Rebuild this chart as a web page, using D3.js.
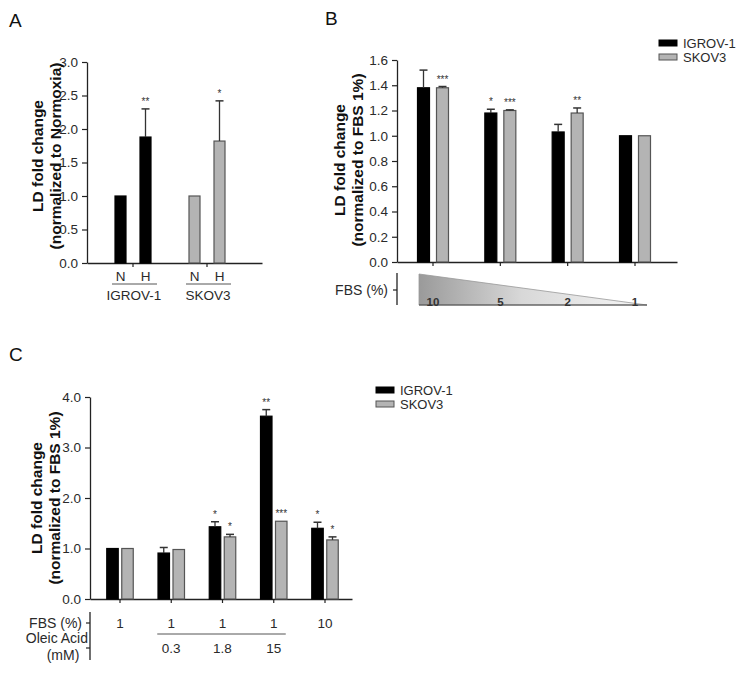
<!DOCTYPE html>
<html><head><meta charset="utf-8">
<script src="https://cdn.jsdelivr.net/npm/d3@7"></script>
<style>body{margin:0;background:#fff}svg{font-family:"Liberation Sans",Arial,sans-serif}</style>
</head><body>
<svg id="c" width="748" height="673"></svg>
<script>
// ---------- DATA ----------
const seriesNames = ["IGROV-1", "SKOV3"];
// Panel A
const aGroups = ["IGROV-1", "SKOV3"];
const aConds = ["N", "H"];
const aMeans = [[1.0, 1.88], [1.0, 1.82]];
const aErr = [[0, 0.42], [0, 0.60]];
const aStars = [["", "**"], ["", "*"]];
const aTicks = [0, 0.5, 1.0, 1.5, 2.0, 2.5, 3.0];
// Panel B
const bCategories = ["10", "5", "2", "1"];
const bIgrov = [1.38, 1.18, 1.03, 1.0];
const bIgrovErr = [0.14, 0.03, 0.06, 0];
const bSkov = [1.38, 1.20, 1.18, 1.0];
const bSkovErr = [0.01, 0.005, 0.04, 0];
const bIgrovStars = ["", "*", "", ""];
const bSkovStars = ["***", "***", "**", ""];
const bTicks = [0, 0.2, 0.4, 0.6, 0.8, 1.0, 1.2, 1.4, 1.6];
// Panel C
const cFbs = ["1", "1", "1", "1", "10"];
const cOleic = ["", "0.3", "1.8", "15", ""];
const cIgrov = [1.0, 0.91, 1.43, 3.62, 1.40];
const cIgrovErr = [0, 0.11, 0.10, 0.13, 0.12];
const cSkov = [1.0, 0.98, 1.23, 1.54, 1.17];
const cSkovErr = [0, 0, 0.05, 0, 0.06];
const cIgrovStars = ["", "", "*", "**", "*"];
const cSkovStars = ["", "", "*", "***", "*"];
const cTicks = [0, 1, 2, 3, 4];

// ---------- STYLE ----------
const BLACK = "#000", GREY = "#b4b4b4", GREYSTROKE = "#555", AX = "#222", TXT = "#2a2a2a";
const svg = d3.select("#c");

function yAxis(g, y, ticks, x0, fmt) {
  const ax = g.append("g").attr("transform", `translate(${x0},0)`)
    .call(d3.axisLeft(y).tickValues(ticks).tickFormat(fmt).tickSize(5).tickSizeOuter(0));
  ax.select(".domain").attr("stroke", AX).attr("stroke-width", 1.3);
  ax.selectAll(".tick line").attr("stroke", AX).attr("stroke-width", 1.2);
  ax.selectAll(".tick text").attr("font-size", 13.5).attr("fill", TXT).attr("font-family", "Liberation Sans, Arial, sans-serif").attr("dx", -1);
  return ax;
}
function xAxisLine(g, x, y0, x0, x1) {
  const sc = d3.scaleLinear().domain([0, 1]).range([x0, x1]);
  const ax = g.append("g").attr("transform", `translate(0,${y0})`)
    .call(d3.axisBottom(sc).tickValues([]).tickSizeOuter(0));
  ax.select(".domain").attr("stroke", AX).attr("stroke-width", 1.3);
  g.append("g").selectAll("line").data(x.domain()).join("line")
    .attr("x1", d => x(d)).attr("x2", d => x(d)).attr("y1", y0).attr("y2", y0 + 4)
    .attr("stroke", AX).attr("stroke-width", 1.2);
}
function yTitle(g, cx, cy, l1, l2) {
  const t = g.append("text").attr("transform", `translate(${cx},${cy}) rotate(-90)`)
    .attr("text-anchor", "middle").attr("font-size", 15.5).attr("font-weight", "bold").attr("fill", "#111");
  t.append("tspan").attr("x", 0).attr("y", 0).text(l1);
  t.append("tspan").attr("x", 0).attr("y", 18).text(l2);
}
function bar(g, cx, w, y, v, err, fill, stroke, star) {
  g.append("rect").attr("x", cx - w / 2).attr("width", w)
    .attr("y", y(v)).attr("height", y(0) - y(v))
    .attr("fill", fill).attr("stroke", stroke).attr("stroke-width", 1.2);
  let top = y(v);
  if (err > 0) {
    const ye = y(v + err);
    g.append("line").attr("x1", cx).attr("x2", cx).attr("y1", y(v)).attr("y2", ye).attr("stroke", "#333").attr("stroke-width", 1.3);
    g.append("line").attr("x1", cx - 4).attr("x2", cx + 4).attr("y1", ye).attr("y2", ye).attr("stroke", "#333").attr("stroke-width", 1.5);
    top = ye;
  }
  if (star) g.append("text").attr("x", cx).attr("y", top - 4).attr("text-anchor", "middle")
    .attr("font-size", 10).attr("fill", "#333").text(star);
}
function legend(g, x, y) {
  seriesNames.forEach((s, i) => {
    g.append("rect").attr("x", x).attr("y", y + i * 14 - 3).attr("width", 18).attr("height", 6)
      .attr("fill", i ? GREY : BLACK).attr("stroke", i ? GREYSTROKE : BLACK).attr("stroke-width", 1);
    g.append("text").attr("x", x + 24).attr("y", y + i * 14).attr("dy", "0.35em")
      .attr("font-size", 13).attr("fill", TXT).text(s);
  });
}
const fmt1 = d3.format(".1f");

// ---------- PANEL A ----------
{
  const g = svg.append("g");
  g.append("text").attr("x", 9).attr("y", 27).attr("font-size", 19).attr("fill", "#111").text("A");
  const y = d3.scaleLinear().domain([0, 3]).range([263, 62]);
  const x = d3.scalePoint().domain(aGroups).range([133, 207]);
  const sub = d3.scalePoint().domain(aConds).range([-12.5, 12.5]);
  yAxis(g, y, aTicks, 87, fmt1);
  xAxisLine(g, x, 263, 87, 262);
  aGroups.forEach((grp, gi) => {
    aConds.forEach((c, ci) => {
      bar(g, x(grp) + sub(c), 11, y, aMeans[gi][ci], aErr[gi][ci],
        gi ? GREY : BLACK, gi ? GREYSTROKE : BLACK, aStars[gi][ci]);
      g.append("text").attr("x", x(grp) + sub(c)).attr("y", 281).attr("text-anchor", "middle")
        .attr("font-size", 13.5).attr("fill", TXT).text(c);
    });
    g.append("line").attr("x1", x(grp) - 21).attr("x2", x(grp) + 24).attr("y1", 284).attr("y2", 284)
      .attr("stroke", "#555").attr("stroke-width", 1);
    g.append("text").attr("x", x(grp) + 1).attr("y", 300).attr("text-anchor", "middle")
      .attr("font-size", 13.5).attr("fill", TXT).text(grp);
  });
  yTitle(g, 43, 156, "LD fold change", "(normalized to Normoxia)");
}

// ---------- PANEL B ----------
{
  const g = svg.append("g");
  g.append("text").attr("x", 325).attr("y", 25).attr("font-size", 19).attr("fill", "#111").text("B");
  const y = d3.scaleLinear().domain([0, 1.6]).range([262, 60]);
  const x = d3.scalePoint().domain(bCategories).range([433, 635]);
  const sub = d3.scalePoint().domain(seriesNames).range([-9.5, 9.5]);
  yAxis(g, y, bTicks, 397, fmt1);
  xAxisLine(g, x, 262, 397, 677);
  bCategories.forEach((c, i) => {
    bar(g, x(c) + sub("IGROV-1"), 12, y, bIgrov[i], bIgrovErr[i], BLACK, BLACK, bIgrovStars[i]);
    bar(g, x(c) + sub("SKOV3"), 12, y, bSkov[i], bSkovErr[i], GREY, GREYSTROKE, bSkovStars[i]);
  });
  yTitle(g, 345, 160, "LD fold change", "(normalized to FBS 1%)");
  legend(g, 659, 43);
  // FBS gradient triangle
  const defs = svg.append("defs");
  const grad = defs.append("linearGradient").attr("id", "fbsGrad").attr("x1", "0").attr("x2", "1").attr("y1", "0").attr("y2", "0");
  grad.append("stop").attr("offset", "0%").attr("stop-color", "#9a9a9a");
  grad.append("stop").attr("offset", "45%").attr("stop-color", "#d8d8d8");
  grad.append("stop").attr("offset", "100%").attr("stop-color", "#f6f6f6");
  const tx0 = x(bCategories[0]) - 14, tx1 = x(bCategories[bCategories.length - 1]) + 12;
  g.append("path").attr("d", d3.line()([[tx0, 274], [tx1, 305], [tx0, 305]]) + "Z")
    .attr("fill", "url(#fbsGrad)").attr("stroke", "#999").attr("stroke-width", 0.8);
  g.append("line").attr("x1", tx0).attr("x2", tx1).attr("y1", 305).attr("y2", 305).attr("stroke", "#444").attr("stroke-width", 1);
  g.append("line").attr("x1", 397).attr("x2", 397).attr("y1", 273).attr("y2", 305).attr("stroke", AX).attr("stroke-width", 1.3);
  g.append("line").attr("x1", 393).attr("x2", 397).attr("y1", 290).attr("y2", 290).attr("stroke", AX).attr("stroke-width", 1.2);
  g.append("text").attr("x", 388).attr("y", 290).attr("dy", "0.35em").attr("text-anchor", "end")
    .attr("font-size", 14).attr("fill", TXT).text("FBS (%)");
  bCategories.forEach(c => {
    g.append("text").attr("x", x(c)).attr("y", 306).attr("text-anchor", "middle")
      .attr("font-size", 11.5).attr("font-weight", "bold").attr("fill", "#333").text(c);
  });
}

// ---------- PANEL C ----------
{
  const g = svg.append("g");
  g.append("text").attr("x", 9).attr("y", 361).attr("font-size", 19).attr("fill", "#111").text("C");
  const y = d3.scaleLinear().domain([0, 4]).range([599, 397]);
  const idx = cFbs.map((d, i) => i);
  const x = d3.scalePoint().domain(idx).range([120, 325]);
  const sub = d3.scalePoint().domain(seriesNames).range([-7.5, 7.5]);
  yAxis(g, y, cTicks, 90, fmt1);
  xAxisLine(g, x, 599, 90, 352);
  idx.forEach(i => {
    bar(g, x(i) + sub("IGROV-1"), 11.5, y, cIgrov[i], cIgrovErr[i], BLACK, BLACK, cIgrovStars[i]);
    bar(g, x(i) + sub("SKOV3"), 11.5, y, cSkov[i], cSkovErr[i], GREY, GREYSTROKE, cSkovStars[i]);
    g.append("text").attr("x", x(i)).attr("y", 623).attr("dy", "0.35em").attr("text-anchor", "middle")
      .attr("font-size", 13.5).attr("fill", TXT).text(cFbs[i]);
    if (cOleic[i]) g.append("text").attr("x", x(i)).attr("y", 648).attr("dy", "0.35em").attr("text-anchor", "middle")
      .attr("font-size", 13.5).attr("fill", TXT).text(cOleic[i]);
  });
  const oi = idx.filter(i => cOleic[i]);
  g.append("line").attr("x1", x(oi[0]) - 14).attr("x2", x(oi[oi.length - 1]) + 12).attr("y1", 634).attr("y2", 634)
    .attr("stroke", "#555").attr("stroke-width", 1);
  yTitle(g, 42, 498, "LD fold change", "(normalized to FBS 1%)");
  legend(g, 376, 390);
  g.append("line").attr("x1", 90).attr("x2", 90).attr("y1", 612).attr("y2", 660).attr("stroke", AX).attr("stroke-width", 1.3);
  [623, 648].forEach(yy => g.append("line").attr("x1", 86).attr("x2", 90).attr("y1", yy).attr("y2", yy).attr("stroke", AX).attr("stroke-width", 1.2));
  g.append("text").attr("x", 82).attr("y", 623).attr("dy", "0.35em").attr("text-anchor", "end").attr("font-size", 14).attr("fill", TXT).text("FBS (%)");
  g.append("text").attr("x", 88).attr("y", 638).attr("dy", "0.35em").attr("text-anchor", "end").attr("font-size", 14).attr("fill", TXT).text("Oleic Acid");
  g.append("text").attr("x", 63).attr("y", 655).attr("dy", "0.35em").attr("text-anchor", "middle").attr("font-size", 14).attr("fill", TXT).text("(mM)");
}
</script>
</body></html>
